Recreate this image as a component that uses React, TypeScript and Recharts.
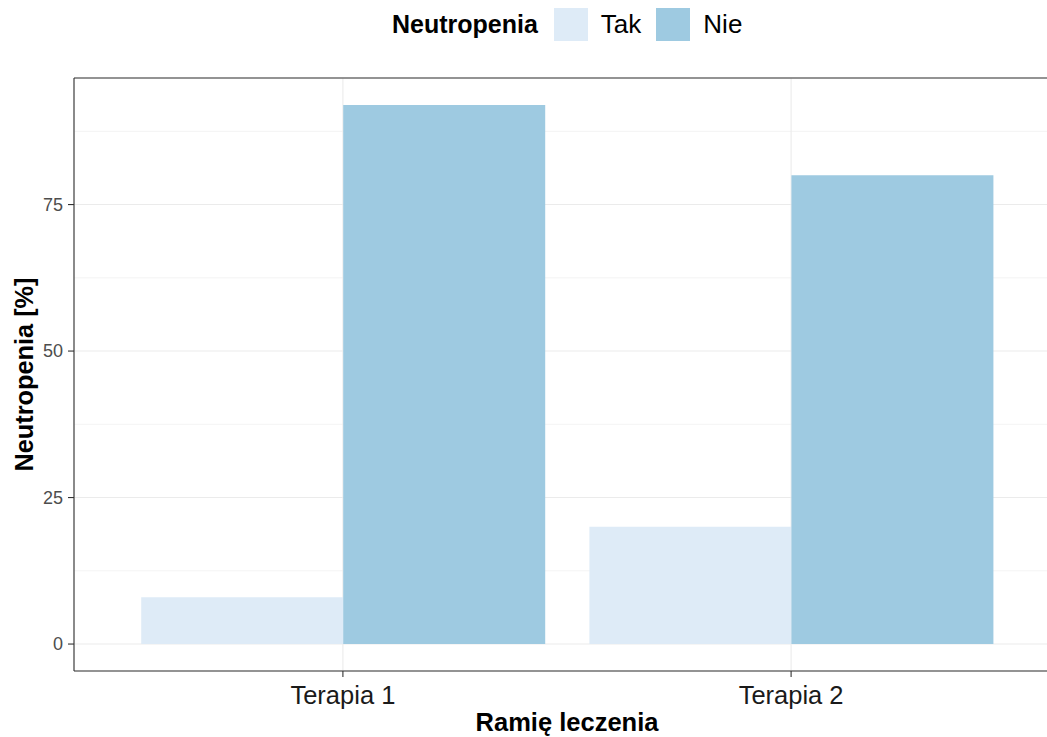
import React from 'react';
import { BarChart, Bar, XAxis, YAxis, CartesianGrid, Legend, Label, ReferenceLine } from 'recharts';

const arms = ['Terapia 1', 'Terapia 2'];
const takValues = [8, 20];
const nieValues = [92, 80];
const seriesNames = ['Tak', 'Nie'];
const seriesColors = ['#DEEBF7', '#9ECAE1'];
const yTicks = [0, 25, 50, 75];
const yMinorTicks = [12.5, 37.5, 62.5, 87.5];
const yDomain: [number, number] = [-4.6, 96.6];

const data = arms.map((arm, i) => ({ arm, Tak: takValues[i], Nie: nieValues[i] }));

const FONT = '"Liberation Sans", Arial, sans-serif';
const BORDER = '#333333';
const GRID = '#EBEBEB';

const LegendContent = (props: any) => {
  const payload = [...(props.payload || [])].sort(
    (a: any, b: any) => seriesNames.indexOf(a.value) - seriesNames.indexOf(b.value)
  );
  return (
    <div style={{ position: 'relative', width: 1070, height: 78 }}>
      <div
        style={{
          position: 'absolute',
          left: 392,
          top: 8,
          height: 33,
          display: 'flex',
          alignItems: 'center',
          fontFamily: FONT,
          fontSize: 25,
          color: '#000',
          whiteSpace: 'nowrap',
        }}
      >
        <span style={{ fontWeight: 'bold' }}>Neutropenia</span>
        {payload.map((p: any, i: number) => (
          <React.Fragment key={i}>
            <span
              style={{
                display: 'inline-block',
                width: 34,
                height: 33,
                background: p.color,
                marginLeft: i === 0 ? 16 : 15,
              }}
            />
            <span style={{ marginLeft: 13, fontSize: 26 }}>{p.value}</span>
          </React.Fragment>
        ))}
      </div>
    </div>
  );
};

const YTitle = (props: any) => {
  const vb = props.viewBox || { x: 0, y: 78, width: 74, height: 593 };
  const cx = vb.x + 33;
  const cy = vb.y + vb.height / 2;
  return (
    <text
      x={cx}
      y={cy}
      transform={`rotate(-90, ${cx}, ${cy})`}
      textAnchor="middle"
      fontFamily={FONT}
      fontSize={25.3}
      fontWeight="bold"
      fill="#000"
    >
      Neutropenia [%]
    </text>
  );
};

export default function App() {
  return (
    <div
      style={{
        position: 'absolute',
        left: 0,
        top: 0,
        width: 1047,
        height: 737,
        overflow: 'hidden',
        background: '#fff',
      }}
    >
      <BarChart
        width={1070}
        height={737}
        data={data}
        margin={{ top: 0, right: 10, bottom: 0, left: 0 }}
        barCategoryGap="5%"
        barGap={0}
      >
        <CartesianGrid
          horizontalValues={yMinorTicks}
          vertical={false}
          stroke={GRID}
          strokeWidth={0.6}
        />
        <CartesianGrid stroke={GRID} strokeWidth={1.1} />
        <Legend
          verticalAlign="top"
          content={<LegendContent />}
          wrapperStyle={{ left: 0, top: 0, width: 1070, height: 78 }}
        />
        <XAxis
          dataKey="arm"
          type="category"
          height={66}
          padding={{ left: 44.8, right: 44.8 }}
          tickSize={6}
          tickMargin={9}
          axisLine={{ stroke: BORDER, strokeWidth: 1.1 }}
          tickLine={{ stroke: BORDER, strokeWidth: 1.1 }}
          tick={{ fontFamily: FONT, fontSize: 25.5, fill: '#1A1A1A' }}
        >
          <Label
            value="Ramię leczenia"
            position="insideBottom"
            offset={6}
            style={{ fontFamily: FONT, fontSize: 25.5, fontWeight: 'bold', fill: '#000' }}
          />
        </XAxis>
        <YAxis
          type="number"
          domain={yDomain}
          ticks={yTicks}
          width={74}
          tickSize={6}
          tickMargin={5}
          axisLine={{ stroke: BORDER, strokeWidth: 1.1 }}
          tickLine={{ stroke: BORDER, strokeWidth: 1.1 }}
          tick={{ fontFamily: FONT, fontSize: 18, fill: '#4D4D4D' }}
          allowDataOverflow
        >
          <Label content={<YTitle />} />
        </YAxis>
        <Bar dataKey="Tak" name={seriesNames[0]} fill={seriesColors[0]} isAnimationActive={false} />
        <Bar dataKey="Nie" name={seriesNames[1]} fill={seriesColors[1]} isAnimationActive={false} />
        <ReferenceLine y={yDomain[1]} stroke={BORDER} strokeWidth={1.1} ifOverflow="visible" />
      </BarChart>
    </div>
  );
}
